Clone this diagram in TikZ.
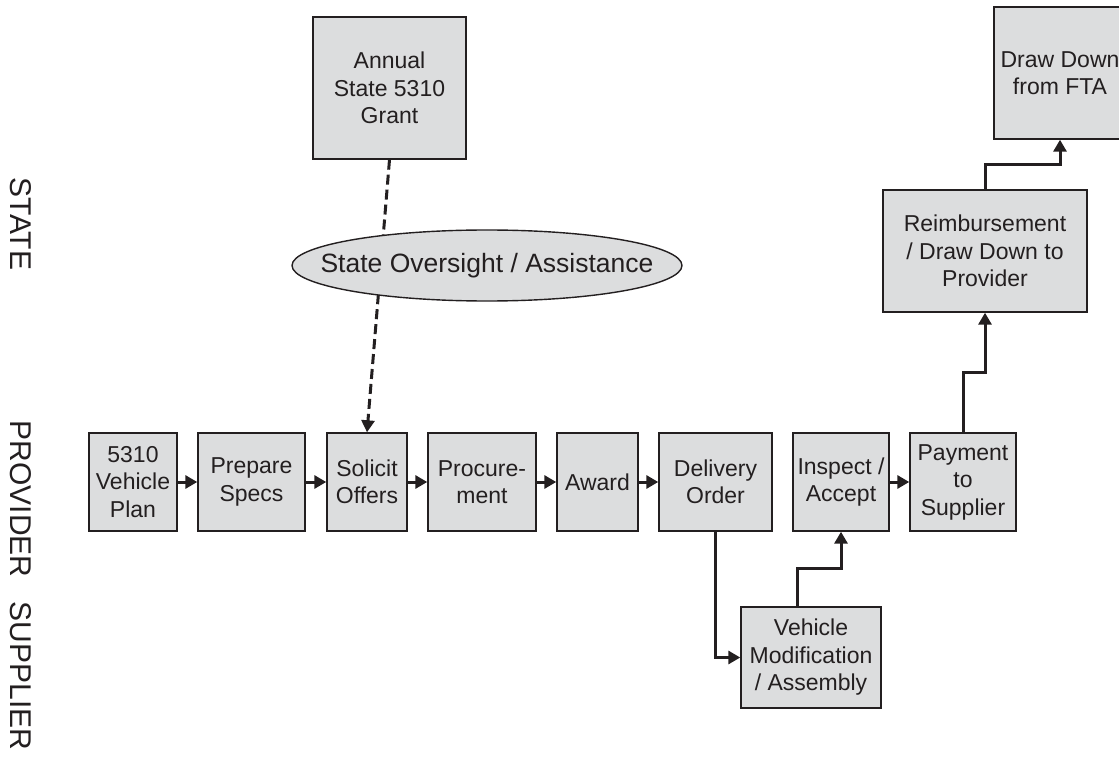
\documentclass[tikz,border=0pt]{standalone}
\usepackage{fontspec}
\setmainfont{Liberation Sans}
\usetikzlibrary{shapes.geometric,arrows.meta}
\definecolor{boxfill}{RGB}{220,221,222}
\definecolor{ink}{RGB}{35,31,32}
\begin{document}
\begin{tikzpicture}[x=1pt,y=-1pt,
  box/.style={draw=ink,line width=1.4pt,fill=boxfill,inner sep=0pt,align=center,
    text=ink,font=\fontsize{23}{27.5}\selectfont},
  flow/.style={draw=ink,line width=3pt,-{Triangle[length=12pt,width=13pt]}},
  link/.style={draw=ink,line width=3pt,dash pattern=on 10pt off 5pt,
    -{Triangle[length=12pt,width=13pt]}},
  lane/.style={rotate=-90,text=ink,font=\fontsize{30}{34}\selectfont}]
\useasboundingbox (0,0) rectangle (1119,759);
\clip (0,0) rectangle (1119,759);

% lane labels
\node[lane] (lstate) at (21,224) {STATE};
\node[lane] (lprov) at (21,499) {PROVIDER};
\node[lane] (lsupp) at (21,676) {SUPPLIER};

% state level
\node[box,minimum width=153pt,minimum height=142pt] (grant) at (389.5,88) {Annual\\State 5310\\Grant};
\node[box,minimum width=132pt,minimum height=132pt] (ffta) at (1060,73) {Draw Down\\from FTA};
\node[box,minimum width=204pt,minimum height=122pt] (reimb) at (985,251) {Reimbursement\\/ Draw Down to\\Provider};

% provider level
\node[box,minimum width=88pt,minimum height=98pt] (plan) at (133,482) {5310\\Vehicle\\Plan};
\node[box,minimum width=107pt,minimum height=98pt] (specs) at (251.5,482) {Prepare\\Specs};
\node[box,minimum width=80pt,minimum height=98pt] (solicit) at (367,482) {Solicit\\Offers};
\node[box,minimum width=108pt,minimum height=98pt] (procure) at (482,482) {Procure-\\ment};
\node[box,minimum width=81pt,minimum height=98pt] (award) at (597.5,482) {Award};
\node[box,minimum width=113pt,minimum height=98pt] (deliver) at (715.5,482) {Delivery\\Order};
\node[box,minimum width=96pt,minimum height=98pt] (inspect) at (841,482) {Inspect /\\Accept};
\node[box,minimum width=106pt,minimum height=98pt] (pay) at (963,482) {Payment\\to\\Supplier};

% supplier level
\node[box,minimum width=140pt,minimum height=101pt] (vmod) at (811,657.5) {Vehicle\\Modification\\/ Assembly};

% grant oversight link, passing behind the ellipse
\draw[link] (grant.south) -- (solicit.north);
\node[ellipse,draw=ink,line width=1.4pt,fill=boxfill,inner sep=0pt,text=ink,
  minimum width=390pt,minimum height=71pt,font=\fontsize{26.5}{30}\selectfont]
  (over) at (487,265.5) {\makebox[0pt]{State Oversight / Assistance}};

% process flow
\draw[flow] (plan) -- (specs);
\draw[flow] (specs) -- (solicit);
\draw[flow] (solicit) -- (procure);
\draw[flow] (procure) -- (award);
\draw[flow] (award) -- (deliver);
\draw[flow] (inspect) -- (pay);
\draw[flow] (deliver.south) |- (vmod.west);
\draw[flow] ([xshift=-14pt]vmod.north) -- ++(0,-38) -| (inspect.south);
\draw[flow] (pay.north) -- ++(0,-60) -| (reimb.south);
\draw[flow] (reimb.north) -- ++(0,-25) -| (ffta.south);
\end{tikzpicture}
\end{document}
